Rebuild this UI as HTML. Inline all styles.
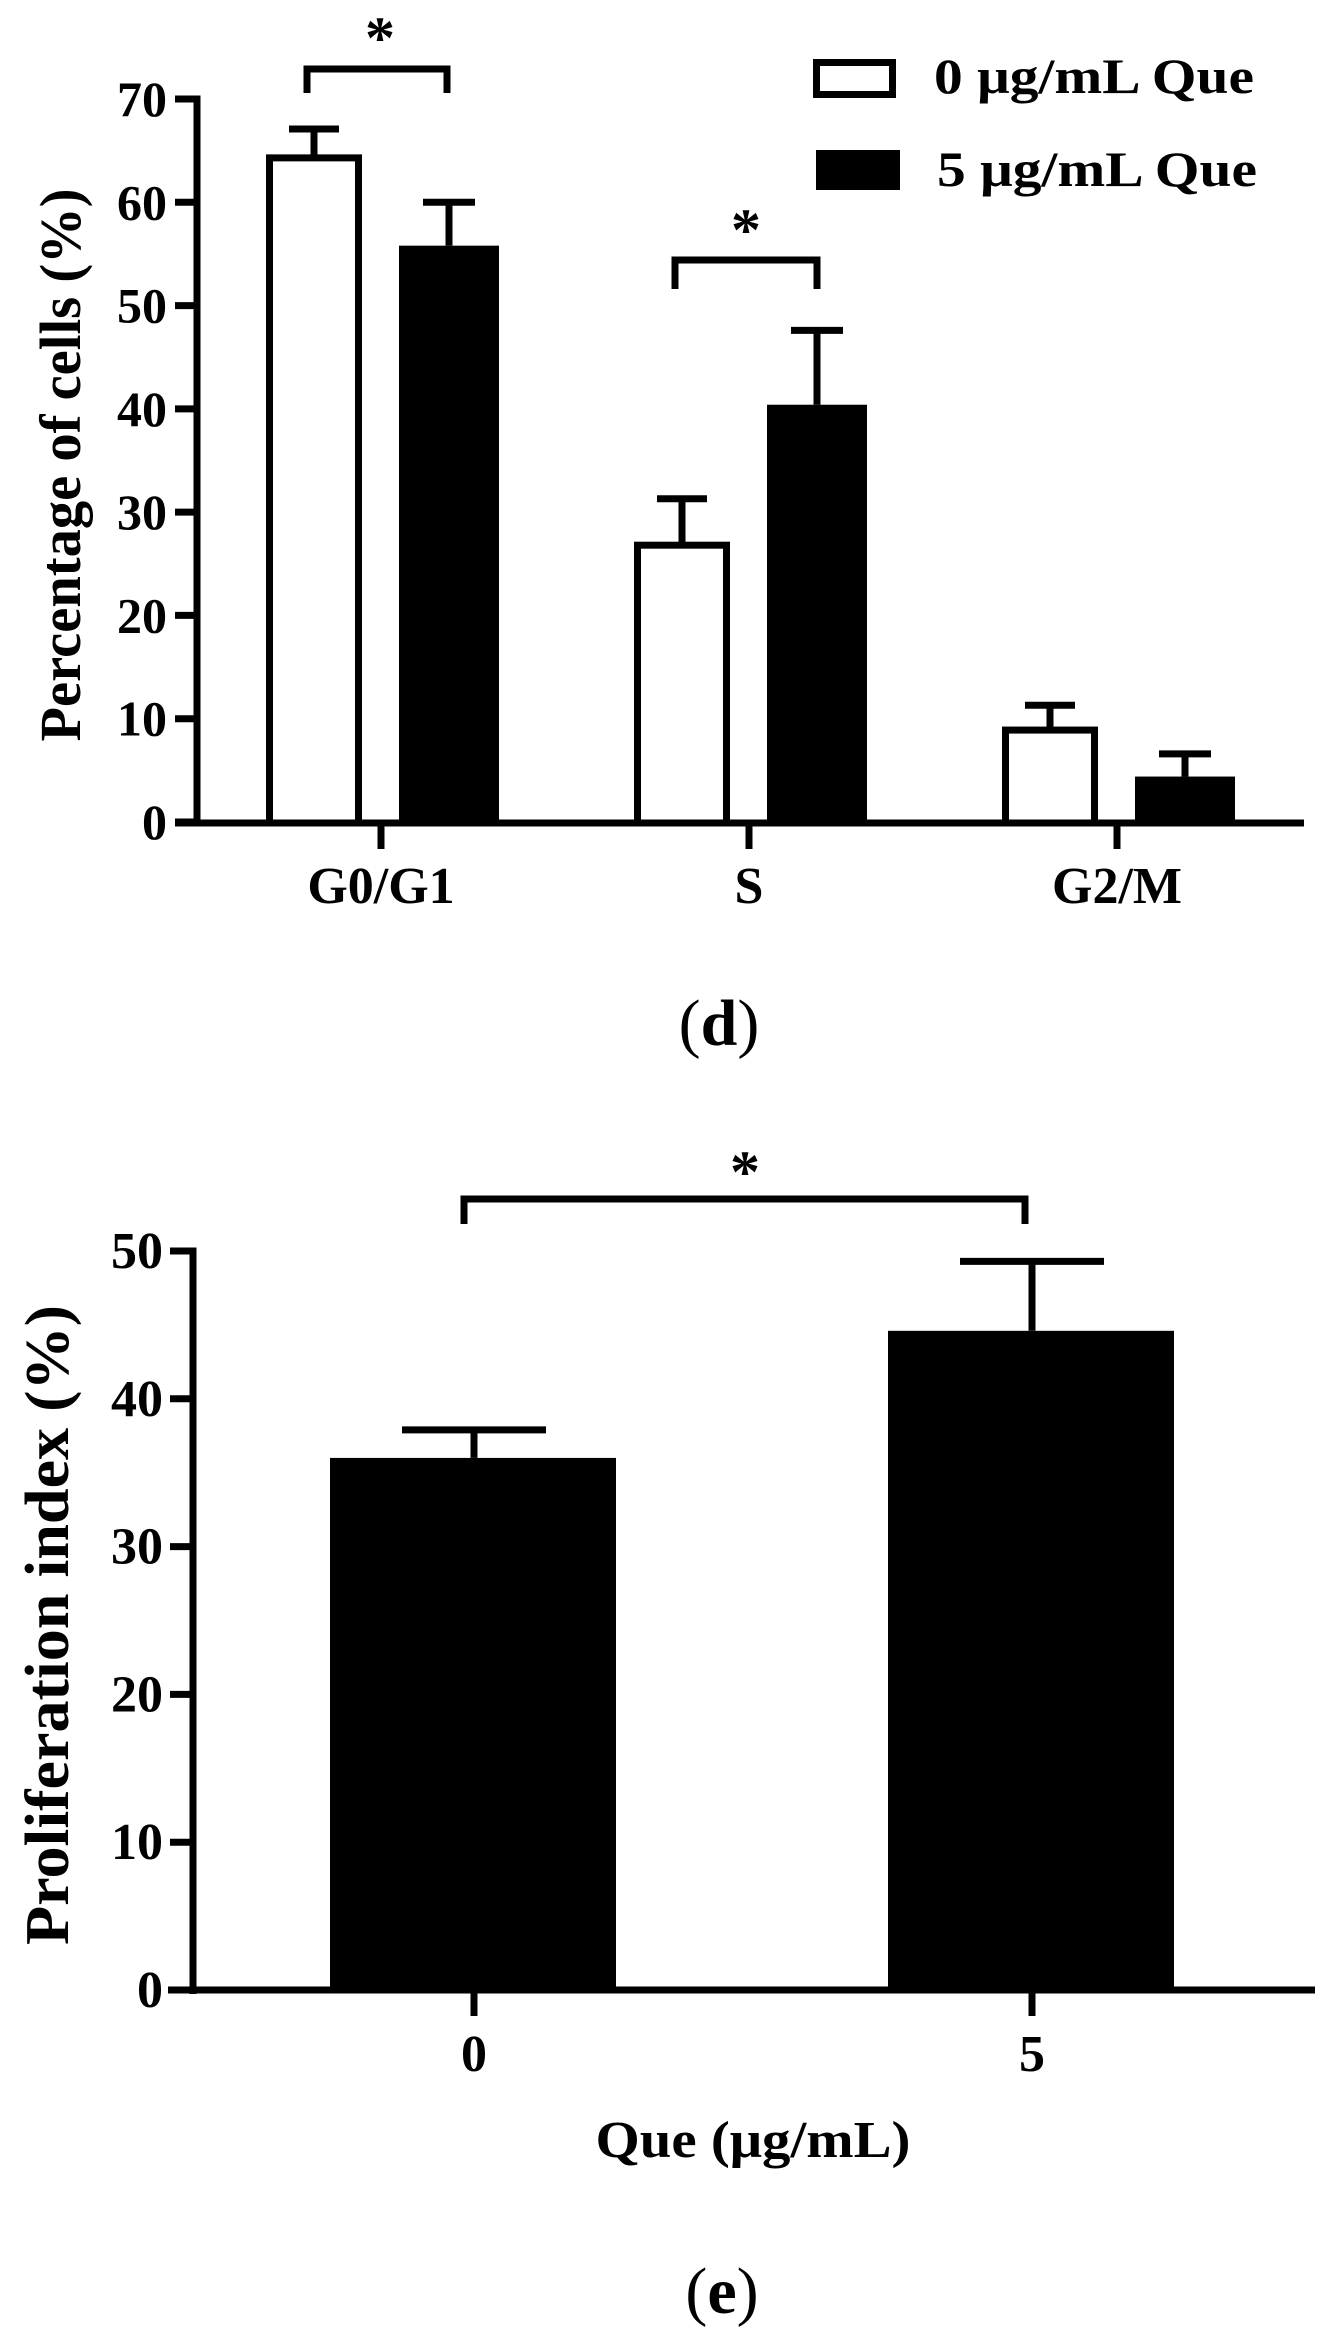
<!DOCTYPE html>
<html><head><meta charset="utf-8"><style>
html,body{margin:0;padding:0;background:#fff;}
svg{display:block;}
text{font-family:"Liberation Serif",serif;font-weight:bold;fill:#000;}
</style></head><body>
<svg id="fig" width="1328" height="2346" viewBox="0 0 1328 2346" xmlns="http://www.w3.org/2000/svg">
<g id="chartD"></g>
<g id="chartE"></g>
</svg>
<script>
// Chart (d) data
const phaseCategories = ["G0/G1", "S", "G2/M"];
const ctrlValues = [64.3, 26.8, 8.9];
const ctrlErrors = [2.8, 4.5, 2.4];
const queValues = [55.8, 40.4, 4.4];
const queErrors = [4.2, 7.2, 2.2];
const dTicks = [0, 10, 20, 30, 40, 50, 60, 70];
const dSeriesNames = ["0 μg/mL Que", "5 μg/mL Que"];
// Chart (e) data
const eCategories = ["0", "5"];
const eValues = [36.0, 44.6];
const eErrors = [1.9, 4.7];
const eTicks = [0, 10, 20, 30, 40, 50];

const NS = "http://www.w3.org/2000/svg";
function mk(parent, tag, attrs, txt) {
  const el = document.createElementNS(NS, tag);
  for (const k in attrs) el.setAttribute(k, attrs[k]);
  if (txt !== undefined) el.textContent = txt;
  parent.appendChild(el);
  return el;
}

// ---------- Chart D ----------
const gD = document.getElementById('chartD');
const dY = v => 822 - v * (822 - 99) / 70;
const dX = i => 381 + i * 368;
const SW = 7;

let e = mk(gD, 'line', {x1:197, y1:95.5, x2:197, y2:826, stroke:'#000','stroke-width':SW});


e = mk(gD, 'line', {x1:175, y1:823, x2:1304, y2:823, stroke:'#000','stroke-width':SW});


dTicks.forEach(t => {
  const y = dY(t);
  const tk = mk(gD, 'line', {x1:175, y1:y, x2:197, y2:y, stroke:'#000','stroke-width':SW});
  
  
  const lb = mk(gD, 'text', {x:167, y:y + 17, 'text-anchor':'end', 'font-size':50}, String(t));
  
  
});
phaseCategories.forEach((c, i) => {
  const cx = dX(i);
  const tk = mk(gD, 'line', {x1:cx, y1:823, x2:cx, y2:849, stroke:'#000','stroke-width':SW});
  
  
  const lb = mk(gD, 'text', {x:cx, y:903, 'text-anchor':'middle', 'font-size':52}, c);
  
  
  const y1 = dY(ctrlValues[i]);
  const b1 = mk(gD, 'rect', {x:cx - 111.5, y:y1, width:89, height:823 - y1, fill:'#fff', stroke:'#000', 'stroke-width':SW});
  
  
  const ey1 = dY(ctrlValues[i] + ctrlErrors[i]);
  const ex1 = cx - 67;
  const el1 = mk(gD, 'path', {d:`M${ex1},${y1 - 3}V${ey1}M${ex1 - 25},${ey1}H${ex1 + 25}`, stroke:'#000', 'stroke-width':SW, fill:'none'});
  
  
  const y2 = dY(queValues[i]);
  const b2 = mk(gD, 'rect', {x:cx + 18, y:y2, width:100, height:823 - y2, fill:'#000'});
  
  
  const ey2 = dY(queValues[i] + queErrors[i]);
  const ex2 = cx + 68;
  const el2 = mk(gD, 'path', {d:`M${ex2},${y2}V${ey2}M${ex2 - 26},${ey2}H${ex2 + 26}`, stroke:'#000', 'stroke-width':SW, fill:'none'});
  
  
});
e = mk(gD, 'path', {d:'M307,93V69H447V93', stroke:'#000','stroke-width':SW, fill:'none'});


e = mk(gD, 'text', {x:380, y:58, 'text-anchor':'middle', 'font-size':60}, '*');


e = mk(gD, 'path', {d:'M675,289V260H817V289', stroke:'#000','stroke-width':SW, fill:'none'});


e = mk(gD, 'text', {x:746, y:250, 'text-anchor':'middle', 'font-size':60}, '*');


e = mk(gD, 'rect', {x:816.5, y:62.5, width:76, height:32, fill:'#fff', stroke:'#000','stroke-width':SW});


e = mk(gD, 'text', {x:934, y:93, 'font-size':50, textLength:320, lengthAdjust:'spacingAndGlyphs'}, dSeriesNames[0]);


e = mk(gD, 'rect', {x:816, y:150, width:84, height:40, fill:'#000'});


e = mk(gD, 'text', {x:937, y:186, 'font-size':50, textLength:320, lengthAdjust:'spacingAndGlyphs'}, dSeriesNames[1]);


e = mk(gD, 'text', {x:0, y:0, 'text-anchor':'middle', 'font-size':58, textLength:553, lengthAdjust:'spacingAndGlyphs', transform:'translate(80,465) rotate(-90)'}, 'Percentage of cells (%)');


e = mk(gD, 'text', {x:719, y:1045, 'text-anchor':'middle', 'font-size':66, 'font-weight':'normal'}, '');


mk(e, 'tspan', {'font-weight':'normal'}, '(');
mk(e, 'tspan', {'font-weight':'bold'}, 'd');
mk(e, 'tspan', {'font-weight':'normal'}, ')');

// ---------- Chart E ----------
const gE = document.getElementById('chartE');
const eY = v => 1990 - v * (1990 - 1251) / 50;
const eX = i => 474 + i * 558;
e = mk(gE, 'line', {x1:193, y1:1247.5, x2:193, y2:1994, stroke:'#000','stroke-width':SW});


e = mk(gE, 'line', {x1:168, y1:1990, x2:1315, y2:1990, stroke:'#000','stroke-width':SW});


eTicks.forEach(t => {
  const y = eY(t);
  const tk = mk(gE, 'line', {x1:170, y1:y, x2:193, y2:y, stroke:'#000','stroke-width':SW});
  
  
  const lb = mk(gE, 'text', {x:163, y:y + 17, 'text-anchor':'end', 'font-size':52}, String(t));
  
  
});
eCategories.forEach((c, i) => {
  const cx = eX(i);
  const y = eY(eValues[i]);
  const b = mk(gE, 'rect', {x:cx - 144, y:y, width:286, height:1990 - y, fill:'#000'});
  
  
  const ey = eY(eValues[i] + eErrors[i]);
  const er = mk(gE, 'path', {d:`M${cx},${y}V${ey}M${cx - 72},${ey}H${cx + 72}`, stroke:'#000','stroke-width':SW, fill:'none'});
  
  
  const tk = mk(gE, 'line', {x1:cx, y1:1990, x2:cx, y2:2016, stroke:'#000','stroke-width':SW});
  
  
  const lb = mk(gE, 'text', {x:cx, y:2071, 'text-anchor':'middle', 'font-size':52}, c);
  
  
});
e = mk(gE, 'path', {d:`M${eX(0) - 10},1224V1199H${eX(1) - 7}V1224`, stroke:'#000','stroke-width':SW, fill:'none'});


e = mk(gE, 'text', {x:745, y:1192, 'text-anchor':'middle', 'font-size':60}, '*');


e = mk(gE, 'text', {x:753, y:2157, 'text-anchor':'middle', 'font-size':52, textLength:315, lengthAdjust:'spacingAndGlyphs'}, 'Que (μg/mL)');


e = mk(gE, 'text', {x:0, y:0, 'text-anchor':'middle', 'font-size':62, textLength:640, lengthAdjust:'spacingAndGlyphs', transform:'translate(68,1625) rotate(-90)'}, 'Proliferation index (%)');


e = mk(gE, 'text', {x:722, y:2313, 'text-anchor':'middle', 'font-size':66, 'font-weight':'normal'}, '');


mk(e, 'tspan', {'font-weight':'normal'}, '(');
mk(e, 'tspan', {'font-weight':'bold'}, 'e');
mk(e, 'tspan', {'font-weight':'normal'}, ')');
</script>
</body></html>
